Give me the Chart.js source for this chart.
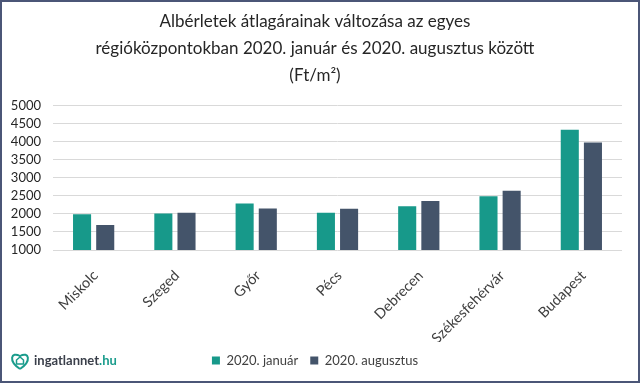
<!DOCTYPE html>
<html><head><meta charset="utf-8">
<script src="https://cdn.jsdelivr.net/npm/chart.js@4.4.0/dist/chart.umd.min.js"></script>
<style>html,body{margin:0;padding:0;background:#fff}#wrap{position:relative;width:640px;height:383px}canvas{display:block}</style>
</head><body><div id="wrap"><canvas id="c" width="640" height="383"></canvas></div>
<script>
const categories = ["Miskolc","Szeged","Győr","Pécs","Debrecen","Székesfehérvár","Budapest"];
const seriesNames = ["2020. január","2020. augusztus"];
const january = [1990, 2010, 2290, 2030, 2210, 2490, 4330];
const august = [1690, 2030, 2150, 2140, 2360, 2640, 3980];
const yTicks = [1000,1500,2000,2500,3000,3500,4000,4500,5000];
const titleLines = ["Albérletek átlagárainak változása az egyes","régióközpontokban 2020. január és 2020. augusztus között","(Ft/m²)"];

const FONT = "Lato, 'Open Sans', sans-serif";
const frame = {
  id:'frame',
  afterDraw(chart){
    const ctx = chart.ctx;
    ctx.save();
    ctx.strokeStyle = '#4B5677';
    ctx.lineWidth = 2;
    ctx.strokeRect(1,1,638,381);
    const cx=20, cy=361;
    ctx.strokeStyle='#1A9C8C'; ctx.lineWidth=2;
    ctx.beginPath();
    ctx.moveTo(cx, cy+8);
    ctx.bezierCurveTo(cx-12, cy, cx-9, cy-10, cx, cy-5);
    ctx.bezierCurveTo(cx+9, cy-10, cx+12, cy, cx, cy+8);
    ctx.stroke();
    ctx.lineWidth=1.5;
    ctx.beginPath();
    ctx.moveTo(cx-3.5, cy+3); ctx.lineTo(cx-3.5, cy-1); ctx.lineTo(cx, cy-4); ctx.lineTo(cx+3.5, cy-1); ctx.lineTo(cx+3.5, cy+3); ctx.closePath();
    ctx.stroke();
    ctx.font = "bold 13px " + FONT;
    ctx.textBaseline = 'middle';
    ctx.fillStyle = '#3a3f4a';
    ctx.fillText('ingatlannet', 34, cy);
    const w = ctx.measureText('ingatlannet').width;
    ctx.fillStyle = '#1A9C8C';
    ctx.fillText('.hu', 34+w, cy);
    ctx.restore();
  }
};

new Chart(document.getElementById('c'), {
  type:'bar',
  data:{
    labels: categories,
    datasets:[
      {label: seriesNames[0], data: january, backgroundColor:'#17998A', categoryPercentage:0.57, barPercentage:0.78},
      {label: seriesNames[1], data: august, backgroundColor:'#44546A', categoryPercentage:0.57, barPercentage:0.78}
    ]
  },
  options:{
    responsive:false, animation:false,
    layout:{padding:{left:8,right:18,top:0,bottom:6}},
    plugins:{
      title:{display:true, text:titleLines, color:'#262626', font:{family:FONT,size:17,weight:'normal',lineHeight:1.6}, padding:{top:8,bottom:16}},
      legend:{position:'bottom', labels:{boxWidth:8, boxHeight:8, color:'#404040', font:{family:FONT,size:13}, padding:12}},
      tooltip:{enabled:false}
    },
    scales:{
      x:{grid:{display:false}, border:{display:false},
         afterFit(s){s.height = 92;},
         ticks:{color:'#404040', font:{family:FONT,size:14.5}, minRotation:45, maxRotation:45, padding:9, labelOffset:2, autoSkip:false}},
      y:{min:1000, max:5000, afterBuildTicks(s){s.ticks = yTicks.map(v=>({value:v}));},
         afterFit(s){s.width = 45;},
         grid:{color:'#D9D9D9', drawTicks:false}, border:{display:false},
         ticks:{color:'#262626', font:{family:FONT,size:13}, padding:12, autoSkip:false, callback:(v)=>String(v)}}
    }
  },
  plugins:[frame]
});
</script></body></html>
